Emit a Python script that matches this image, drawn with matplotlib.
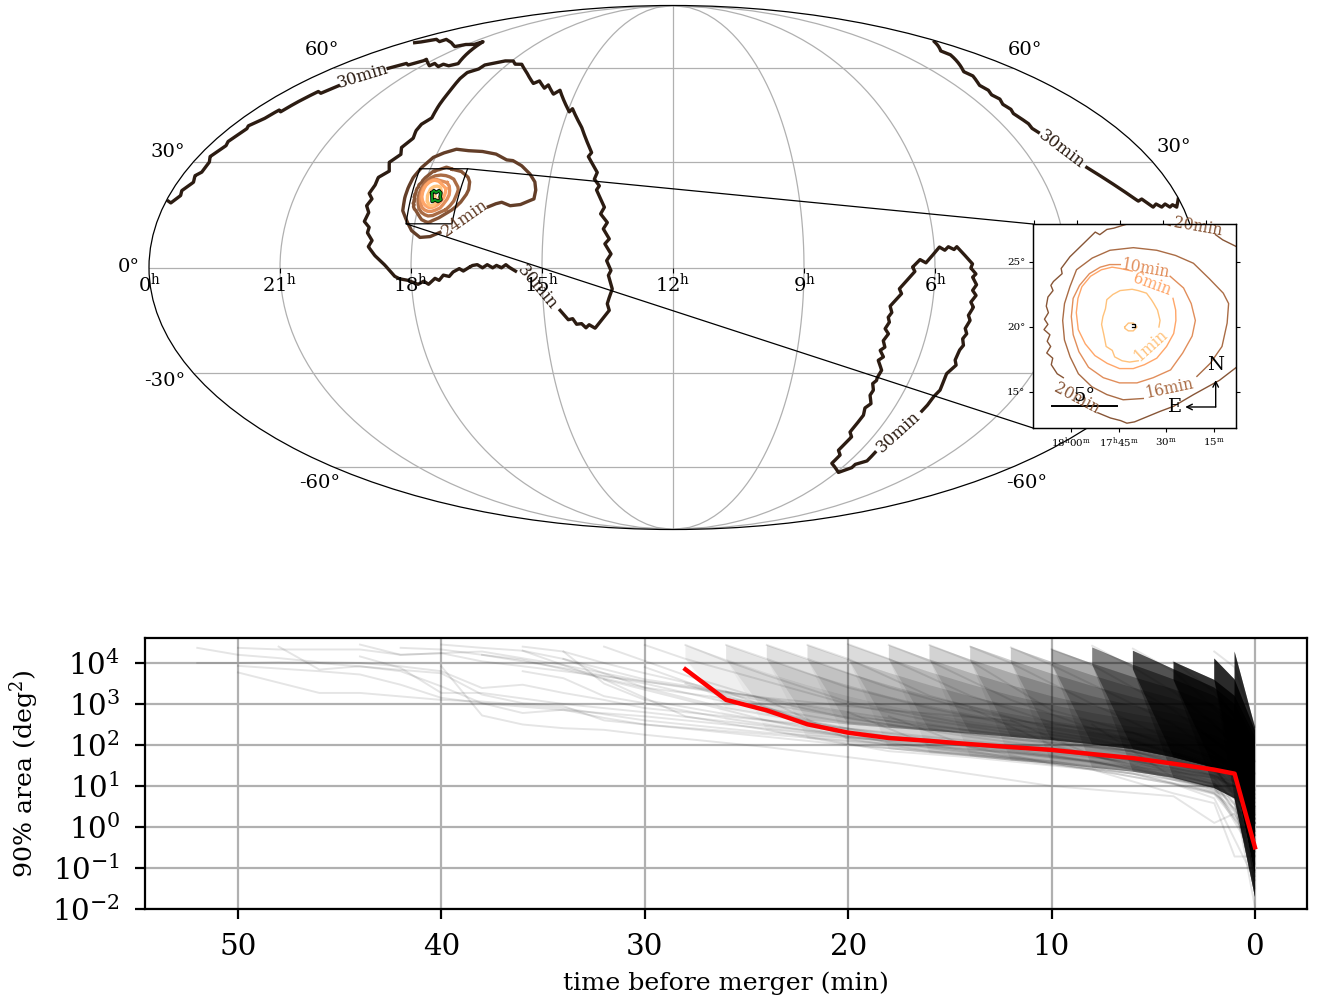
import numpy as np
import matplotlib
matplotlib.use('Agg')
import matplotlib.pyplot as plt
from matplotlib.patches import ConnectionPatch

plt.rcParams['font.family'] = ['DejaVu Serif']
plt.rcParams['mathtext.fontset'] = 'dejavuserif'

# sky contours, right ascension / declination in degrees
ra_30a = [234.1, 236.0, 237.4, 238.9, 240.6, 241.9, 243.8, 245.4, 247.2, 248.8, 250.3, 252.0, 253.4, 255.5, 256.9, 258.9, 260.4, 261.8, 264.1, 265.7, 267.7, 271.0, 273.9, 275.6,
          278.9, 282.5, 285.0, 283.9, 285.9, 285.6, 287.7, 286.9, 288.3, 287.1, 288.8, 287.8, 287.8, 284.8, 286.4, 283.6, 284.9, 282.6, 283.5, 283.2, 280.9, 282.4, 283.7, 285.6, 285.8,
          282.3, 281.9, 277.2, 273.8, 269.2, 266.0, 262.4, 255.2, 247.4, 245.4, 240.6, 239.7, 234.8, 232.7, 224.3, 223.4, 217.1, 211.1, 212.1, 207.9, 208.7, 206.6, 207.5, 204.2, 205.4,
          202.9, 204.2, 202.0, 203.5, 201.3, 202.8, 201.3, 202.2, 200.9, 201.8, 202.8, 202.2, 207.5, 209.5, 210.7, 212.1, 213.9, 215.1, 216.7, 219.3]
dec_30a = [-1.0, -0.1, 0.8, -0.1, 0.6, -0.1, 0.8, -0.1, 0.8, 0.6, -0.1, -1.0, -0.3, -1.2, -2.5, -2.1, -3.6, -3.0, -4.7, -3.8, -4.7, -3.6, -3.2, -2.5, 0.6, 3.3, 5.8, 7.5, 9.7, 11.2, 12.9,
           15.4, 17.3, 19.2, 20.8, 23.0, 25.4, 27.2, 29.8, 32.1, 34.2, 37.0, 39.3, 41.3, 43.2, 47.4, 52.0, 56.2, 58.3, 59.5, 61.0, 61.9, 62.5, 62.5, 61.3, 61.3, 58.3, 54.5, 55.4, 52.9, 54.0,
           50.9, 52.2, 45.2, 46.2, 40.3, 32.7, 31.5, 26.9, 24.9, 23.0, 21.8, 16.9, 15.0, 12.6, 10.8, 8.0, 6.6, 3.8, 1.9, -0.8, -2.2, -5.9, -7.8, -10.1, -12.0, -17.0, -16.0, -16.9, -15.7,
           -15.9, -14.3, -14.6, -12.0]
ra_30b1 = [359.2, 358.0, 355.9, 356.5, 354.2, 355.3, 353.8, 353.9, 355.5, 353.4, 354.3, 352.5, 353.4, 350.7, 349.3, 347.6, 346.4, 344.5, 342.0, 339.5]
dec_30b1 = [18.6, 18.1, 20.2, 21.6, 24.0, 25.9, 26.9, 29.8, 31.5, 34.7, 36.0, 39.8, 40.8, 42.9, 45.8, 45.2, 48.2, 51.8, 51.2, 53.7]
ra_30b2 = [330.6, 326.1, 323.4, 319.5, 319.5, 311.1, 310.6, 305.6, 305.1, 300.8, 297.5, 308.6, 309.9, 315.4, 319.3, 328.2, 338.3, 338.0, 345.3, 349.3, 352.8]
dec_30b2 = [59.8, 61.6, 61.0, 62.5, 63.1, 60.7, 61.6, 60.4, 61.3, 60.7, 61.5, 70.0, 68.9, 68.9, 68.0, 69.6, 71.0, 70.0, 71.0, 70.0, 69.6]
ra_30c1 = [3.0, 16.6, 16.8, 29.7, 29.0, 33.5, 32.9, 34.5, 33.4, 35.2, 34.4, 35.5, 33.9, 34.5, 33.5]
dec_30c1 = [70.0, 66.3, 64.8, 58.6, 57.1, 53.9, 52.2, 50.7, 49.3, 47.6, 46.0, 44.7, 41.5, 40.1, 38.8]
ra_30c2 = [26.2, 14.8, 13.2, 10.5, 9.0, 7.5, 5.8, 4.6, 3.3, 2.2, 0.2]
dec_30c2 = [28.3, 18.6, 19.2, 16.9, 17.8, 16.9, 17.8, 16.9, 17.6, 16.9, 19.2]
ra_30d = [77.8, 77.3, 77.1, 76.2, 76.9, 77.2, 75.2, 76.4, 76.3, 75.5, 76.6, 75.7, 76.8, 75.8, 76.8, 75.6, 76.8, 75.3, 76.7, 75.5, 77.0, 75.9, 77.7, 77.1, 82.2, 83.2, 85.1, 86.4, 88.2,
          93.1, 95.1, 97.7, 96.9, 102.0, 101.1, 104.6, 103.7, 104.7, 104.0, 105.1, 103.5, 104.8, 103.6, 105.0, 103.1, 104.6, 102.1, 102.7, 102.5, 103.5, 102.1, 102.5, 100.4, 101.9,
          100.8, 101.9, 99.6, 100.8, 97.8, 97.9, 88.8, 84.8, 85.2, 81.2, 82.0]
dec_30d = [-41.4, -39.6, -37.0, -35.0, -32.1, -30.1, -27.6, -26.2, -23.3, -21.9, -20.0, -18.6, -17.1, -14.8, -13.4, -11.1, -9.7, -7.8, -6.4, -4.8, -2.7, -1.8, -0.1, 1.0, 5.8, 5.0, 5.8,
           4.8, 5.7, 1.3, 2.2, 0.1, -1.1, -5.9, -7.3, -10.8, -12.6, -13.9, -15.3, -17.1, -18.6, -20.5, -22.4, -23.3, -25.2, -26.2, -29.1, -31.1, -32.1, -33.0, -35.0, -36.5, -39.1, -40.4,
           -42.7, -48.0, -49.6, -54.0, -55.7, -58.6, -61.9, -60.2, -59.0, -57.8, -54.8]
ra_24 = [245.2, 243.0, 240.8, 237.6, 234.1, 231.4, 229.5, 229.3, 230.1, 232.6, 236.4, 240.1, 242.6, 247.2, 252.7, 257.9, 263.3, 267.2, 270.7, 273.4, 275.0, 275.5, 275.6, 275.1, 273.0, 270.7, 267.5, 264.1, 260.8]
dec_24 = [17.0, 17.8, 18.3, 17.3, 17.6, 18.6, 19.2, 21.6, 24.0, 26.4, 28.8, 30.3, 30.5, 32.2, 33.0, 33.2, 33.7, 32.7, 31.3, 28.3, 25.4, 22.5, 19.7, 15.9, 13.1, 10.3, 8.4, 8.6, 9.8]
ra_20a = [261.9, 262.5, 264.2, 265.7, 266.8, 267.4, 268.0, 268.4, 269.4, 270.5, 271.2, 271.1, 271.8, 272.0, 271.8, 272.2, 272.3, 272.1, 272.4, 272.1, 272.4, 271.9, 272.1, 271.8, 272.1, 271.6, 271.7, 271.2, 270.7]
dec_20a = [27.8, 28.0, 28.4, 27.9, 27.6, 27.5, 27.1, 27.3, 26.4, 25.4, 24.5, 24.1, 23.5, 23.2, 22.8, 22.3, 21.6, 21.1, 20.6, 20.2, 19.8, 19.4, 18.9, 18.5, 18.0, 17.6, 17.1, 16.4, 16.1]
ra_20b = [267.9, 266.9, 266.1, 265.6, 265.0, 264.0, 263.0, 261.9, 260.3, 258.2, 256.8, 255.4, 254.0, 253.5, 253.9, 254.9, 256.3, 257.4, 258.0]
dec_20b = [13.4, 13.0, 12.8, 12.6, 12.7, 13.1, 13.5, 13.9, 14.8, 15.9, 16.9, 18.2, 20.3, 21.8, 24.1, 25.4, 26.2, 26.7, 27.1]
ra_16 = [260.0, 258.9, 257.9, 257.4, 257.2, 257.6, 258.7, 260.0, 261.5, 263.1, 265.1, 267.1, 268.6, 269.9, 270.4, 270.8, 270.9, 270.7, 270.2, 269.5, 268.4, 267.2, 265.9, 264.3]
dec_16 = [16.2, 17.2, 18.5, 20.3, 21.8, 22.6, 23.7, 24.9, 25.5, 25.9, 26.1, 25.9, 25.3, 24.4, 23.1, 21.8, 20.5, 19.0, 17.7, 16.4, 15.4, 14.8, 14.4, 14.5]
ra_10 = [262.0, 260.9, 260.3, 260.0, 260.3, 261.1, 262.1, 263.5, 264.8, 266.2, 267.5, 268.7, 269.5, 270.0, 270.2, 270.1, 269.6, 268.8, 267.9, 267.1, 266.2]
dec_10 = [23.9, 23.0, 21.8, 20.5, 19.3, 18.0, 16.7, 16.1, 15.7, 15.7, 16.1, 16.9, 18.1, 19.4, 20.8, 22.2, 23.2, 24.1, 24.6, 24.8, 24.8]
ra_6 = [261.8, 261.6, 261.6, 261.8, 262.4, 263.2, 264.2, 265.1, 266.2, 267.2, 268.2, 269.0, 269.6, 269.8, 269.7, 269.4, 268.7, 267.8, 266.9, 266.2, 265.2]
dec_6 = [22.2, 21.3, 20.5, 19.5, 18.5, 17.6, 17.1, 16.8, 16.8, 17.2, 17.8, 18.7, 19.8, 21.1, 22.2, 23.1, 23.9, 24.4, 24.6, 24.5, 24.3]
ra_1 = [263.0, 262.9, 263.1, 263.4, 263.6, 264.0, 264.7, 265.2, 266.2, 266.8, 267.3, 267.4, 267.6, 267.7, 267.5, 267.3, 266.8, 266.6, 266.0, 265.4, 264.7]
dec_1 = [20.0, 20.5, 21.3, 21.8, 22.1, 22.6, 22.8, 22.9, 22.8, 22.5, 22.1, 21.4, 20.8, 20.2, 19.4, 18.5, 18.2, 17.7, 17.4, 17.3, 17.4]
ra_0 = [265.8, 265.5, 265.1, 264.8, 265.1, 265.5, 265.8, 265.8]
dec_0 = [20.0, 20.3, 20.3, 20.0, 19.7, 19.7, 19.9, 20.0]
ra_dot = [265.2, 265.0, 265.0, 265.2]
dec_dot = [20.2, 20.2, 20.0, 20.0]
ra_final = [266.4, 265.9, 265.0, 264.1, 263.2, 263.1, 262.5, 263.4, 264.6, 265.5, 265.9, 266.4]
dec_final = [21.0, 21.6, 21.0, 21.6, 21.0, 19.9, 19.0, 18.5, 19.0, 18.5, 19.6, 21.0]

labels_main = ['30min', '24min', '30min', '30min', '30min']
labels_main_ra = [226.9, 252.7, 336.2, 30.1, 80.2]
labels_main_dec = [-5.6, 13.7, 57.1, 33.8, -48.1]
labels_main_rot = [-50, 35, 17, -37, 42]
labels_main_t = [30, 24, 30, 30, 30]

labels_inset = ['1min', '6min', '10min', '16min', '20min', '20min']
labels_inset_ra = [263.7, 263.5, 264.1, 262.2, 259.5, 269.6]
labels_inset_dec = [18.6, 23.3, 24.5, 15.3, 27.7, 14.5]
labels_inset_rot = [42, -20, -10, 12, -10, -28]
labels_inset_t = [1, 6, 10, 16, 20, 20]

ra_ticks_deg = [-135, -90, -45, 0, 45, 90, 135]
ra_tick_text = ['21', '18', '15', '12', '9', '6', '3']
inset_ra = [270.0, 266.25, 262.5, 258.75]
inset_ra_text = [r'$\mathrm{18^h00^m}$', r'$\mathrm{17^h45^m}$', r'$\mathrm{30^m}$', r'$\mathrm{15^m}$']
inset_ra_top = [273.75, 270.0, 266.25, 262.5, 258.75]
inset_dec = [15, 20, 25]

# lower panel: time before merger (min), log10 of the 90% area (deg2)
t_red = [28, 26, 24, 22, 20, 18, 16, 14, 12, 10, 8, 6, 4, 2, 1, 0]
area_red = [7000, 1260, 700, 320, 200, 148, 126, 105, 89, 76, 60, 48, 35, 25, 20, 0.32]

track_t = [
    [52, 50, 48, 46, 44, 42, 40, 38, 36, 34, 32, 30, 20, 10, 2, 1, 0],
    [52, 50, 48, 46, 40, 38, 36, 34, 32, 30, 20, 10, 2, 0],
    [50, 48, 44, 42, 40, 38, 34, 30, 24, 18, 12, 6, 2, 1, 0],
    [50, 46, 44, 42, 40, 38, 36, 34, 32, 30, 20, 10, 2, 0],
    [50, 46, 44, 40, 38, 34, 30, 24, 16, 8, 2, 1, 0],
    [48, 46, 44, 42, 40, 38, 34, 30, 22, 14, 6, 1, 0],
    [44, 42, 40, 38, 34, 30, 26, 20, 14, 8, 2, 1, 0],
    [44, 42, 40, 38, 34, 30, 22, 14, 8, 2, 0],
    [42, 40, 38, 36, 34, 30, 26, 20, 12, 6, 1, 0],
    [40, 38, 36, 34, 30, 26, 20, 14, 8, 2, 0],
    [40, 38, 36, 34, 32, 30, 24, 17.5, 10, 4, 2, 1, 0],
    [38, 36, 34, 30, 24, 18, 12, 6, 2, 0],
    [36, 34, 32, 30, 26, 20, 14, 8, 2, 1, 0],
    [34, 32, 30, 26, 20, 12, 6, 2, 0],
    [36, 34, 32, 30, 26, 20, 14, 8, 4, 1, 0],
    [36, 32, 28, 24, 20, 16, 10, 6, 2, 0],
    [34, 30, 26, 20, 16, 10, 4, 1, 0],
    [32, 30, 28, 24, 20, 14, 8, 2, 1, 0],
    [32, 28, 22, 18, 14, 8, 4, 2, 0],
    [30, 28, 24, 20, 16, 12, 6, 2, 0],
    [30, 26, 22, 18, 12, 8, 4, 1, 0],
    [28, 26, 24, 20, 14, 10, 6, 2, 0],
    [28, 24, 20, 14, 10, 6, 2, 1, 0],
    [26, 24, 20, 16, 12, 8, 4, 2, 0],
    [26, 22, 18, 14, 10, 6, 2, 0],
    [24, 22, 18, 14, 10, 6, 2, 1, 0],
    [24, 20, 16, 12, 8, 4, 2, 0],
    [22, 20, 16, 10, 6, 2, 1, 0],
    [20, 18, 14, 10, 6, 2, 0],
    [20, 16, 12, 8, 4, 2, 1, 0],
    [18, 16, 12, 8, 4, 1, 0],
    [18, 14, 10, 6, 2, 0],
    [16, 14, 10, 6, 2, 1, 0],
    [14, 12, 8, 4, 2, 0],
    [14, 10, 6, 2, 1, 0],
    [12, 10, 6, 4, 2, 1, 0],
    [10, 8, 4, 2, 1, 0],
    [8, 6, 4, 2, 1, 0],
    [6, 4, 2, 1, 0],
    [12, 8, 4, 2, 1, 0],
    [8, 4, 2, 1, 0],
    [4, 2, 1, 0],
    [2, 1, 0],
    [2, 1, 0],
]
track_log_area = [
    [4.37, 4.2, 4.12, 4.02, 4.0, 3.92, 3.8, 3.39, 3.47, 3.27, 3.1, 2.9, 2.4, 1.9, 1.2, 1.0, -0.2],
    [4.0, 4.0, 4.02, 4.0, 3.75, 3.23, 3.02, 2.95, 2.6, 2.5, 2.0, 1.6, 1.0, -0.6],
    [4.37, 4.33, 4.33, 4.2, 4.24, 4.04, 3.8, 3.55, 3.15, 2.85, 2.6, 2.3, 1.7, 1.4, 0.3],
    [3.93, 3.8, 3.72, 3.47, 3.15, 3.02, 2.78, 2.86, 2.66, 2.5, 2.1, 1.75, 1.2, -0.1],
    [3.77, 3.27, 3.27, 3.1, 3.06, 2.9, 2.6, 2.3, 2.05, 1.8, 1.25, 1.0, 0.2],
    [4.4, 3.84, 3.92, 3.8, 3.43, 3.02, 2.85, 2.7, 2.3, 2.0, 1.6, 0.9, -0.4],
    [4.45, 4.2, 4.24, 4.28, 3.95, 3.55, 3.25, 2.7, 2.35, 2.0, 1.5, 1.25, 0.2],
    [4.16, 3.88, 3.27, 3.27, 3.0, 2.8, 2.35, 2.05, 1.75, 1.05, -0.2],
    [4.37, 4.33, 4.2, 4.04, 3.88, 3.5, 3.05, 2.55, 2.2, 1.85, 1.1, 0.5],
    [4.45, 4.37, 4.3, 4.1, 3.6, 3.3, 2.8, 2.35, 2.05, 1.4, 0.4],
    [3.92, 2.72, 2.5, 2.41, 2.37, 2.25, 1.95, 1.55, 1.0, 0.75, 0.1, 0.33, -0.5],
    [4.2, 4.08, 3.85, 3.4, 3.0, 2.5, 2.15, 1.85, 1.35, 0.1],
    [4.4, 4.28, 4.0, 3.75, 3.3, 2.75, 2.25, 1.95, 1.4, 1.1, 0.1],
    [4.28, 3.5, 3.1, 2.75, 2.3, 1.95, 1.65, 1.1, -0.3],
    [3.8, 3.63, 3.19, 3.02, 2.65, 2.2, 1.9, 1.6, 1.2, 0.85, -0.2],
    [4.3, 3.6, 3.1, 2.6, 2.2, 1.95, 1.6, 1.35, 0.95, -0.7],
    [4.1, 3.4, 2.9, 2.4, 2.15, 1.75, 1.25, 0.75, -0.9],
    [4.4, 4.05, 3.7, 3.1, 2.65, 2.2, 1.8, 1.25, 0.95, -0.1],
    [3.6, 2.7, 2.2, 1.85, 1.7, 1.4, 1.05, 0.8, -0.4],
    [4.44, 4.1, 3.55, 3.0, 2.6, 2.3, 1.9, 1.4, 0.3],
    [3.9, 3.2, 2.6, 2.2, 1.85, 1.6, 1.2, 0.7, -0.6],
    [4.44, 4.05, 3.7, 3.05, 2.5, 2.25, 1.95, 1.45, 0.5],
    [3.5, 2.8, 2.35, 1.95, 1.7, 1.45, 1.05, 0.7, -1.1],
    [4.44, 4.1, 3.4, 2.9, 2.5, 2.15, 1.75, 1.45, 0.1],
    [3.3, 2.55, 2.05, 1.8, 1.55, 1.3, 0.85, -0.3],
    [4.44, 4.1, 3.4, 2.85, 2.45, 2.1, 1.5, 1.2, 0.35],
    [3.1, 2.15, 1.85, 1.65, 1.4, 1.05, 0.7, -1.3],
    [4.44, 4.1, 3.2, 2.4, 2.05, 1.55, 1.3, 0.2],
    [4.46, 4.1, 3.2, 2.55, 2.1, 1.45, 0.1],
    [2.8, 2.0, 1.7, 1.4, 0.82, 0.58, -0.72, -0.72],
    [4.44, 4.05, 3.1, 2.4, 1.85, 1.25, 0.45],
    [2.7, 1.95, 1.55, 1.3, 0.82, 0.09],
    [4.44, 4.05, 2.85, 2.3, 1.55, 1.25, -0.4],
    [4.4, 4.0, 3.0, 2.1, 1.6, 0.6],
    [2.9, 2.0, 1.5, 0.9, 0.55, -1.2],
    [4.38, 3.95, 3.0, 2.5, 1.8, 1.45, 0.8],
    [4.34, 3.95, 2.85, 2.1, 1.7, 0.7],
    [4.42, 3.9, 3.3, 2.5, 2.0, 0.9],
    [4.35, 3.8, 2.9, 2.3, 1.3],
    [2.6, 1.75, 1.15, 0.82, 0.37, -1.05],
    [2.5, 1.2, 0.95, 0.6, -1.5],
    [4.03, 3.3, 2.7, 1.6],
    [4.28, 3.9, 2.44],
    [1.0, 0.7, -1.95],
]

# dense part of the bundle: one shaded envelope per start time
cohort_grid = [28, 26, 24, 22, 20, 18, 16, 14, 12, 10, 8, 6, 4, 2, 1, 0]
cohort_top = [
    [4.44, 4.10, 3.76, 3.46, 3.19, 2.96, 2.76, 2.59, 2.44, 2.32, 2.19, 2.06, 1.90, 1.70, 1.50, 0.70],
    [4.44, 4.09, 3.76, 3.46, 3.19, 2.96, 2.76, 2.59, 2.44, 2.32, 2.19, 2.06, 1.90, 1.65, 0.80],
    [4.44, 4.09, 3.76, 3.46, 3.19, 2.96, 2.76, 2.59, 2.44, 2.32, 2.19, 2.00, 1.80, 1.00],
    [4.44, 4.09, 3.76, 3.46, 3.19, 2.96, 2.76, 2.59, 2.44, 2.32, 2.12, 1.90, 1.10],
    [4.46, 4.11, 3.78, 3.48, 3.21, 2.98, 2.78, 2.61, 2.46, 2.25, 2.00, 1.20],
    [4.44, 4.09, 3.76, 3.46, 3.19, 2.96, 2.76, 2.59, 2.35, 2.10, 1.30],
    [4.44, 4.09, 3.76, 3.46, 3.19, 2.96, 2.76, 2.48, 2.20, 1.40],
    [4.42, 4.07, 3.74, 3.44, 3.17, 2.94, 2.62, 2.30, 1.50],
    [4.38, 4.03, 3.70, 3.40, 3.13, 2.78, 2.42, 1.60],
    [4.34, 3.99, 3.66, 3.36, 2.98, 2.60, 1.75],
    [4.38, 3.96, 3.60, 3.20, 2.80, 1.90],
    [4.30, 3.85, 3.40, 3.00, 2.05],
    [4.03, 3.59, 3.20, 2.20],
    [4.11, 3.60, 2.35],
    [4.28, 2.44],
]
cohort_alpha = [0.06, 0.09, 0.11, 0.12, 0.13, 0.15, 0.16, 0.18, 0.20, 0.32, 0.50, 0.75, 0.95, 1.0, 1.0]
wide_floor = [3.0, 2.6, 2.35, 2.15, 2.0, 1.9, 1.8, 1.72, 1.62, 1.55, 1.45, 1.35, 1.2, 0.95, 0.7, -1.7]
core_floor = [3.2, 2.9, 2.75, 2.6, 2.5, 2.42, 2.35, 2.28, 2.2, 2.12, 2.02, 1.9, 1.7, 1.45, 1.3, -1.1]

W, H = 1320, 998
RA0, DEC0 = 265.0, 20.0


def geo(ra, dec):
    return np.radians(180 - np.asarray(ra, float)), np.radians(np.asarray(dec, float))


def sky(ra, dec):
    ra, dec = np.asarray(ra, float), np.asarray(dec, float)
    return (RA0 - ra) * np.cos(np.radians(dec)), dec


def col(t):
    return plt.cm.copper(1 - t / 35)


fig = plt.figure(figsize=(W / 200, H / 200), dpi=200)

# all-sky map
ax = fig.add_axes([149 / W, 1 - 530 / H, 1048 / W, 525 / H], projection='mollweide')
ax.set_longitude_grid(45)
ax.set_latitude_grid(30)
ax.set_longitude_grid_ends(90)
ax.grid(True, color='#b0b0b0', lw=0.45)
ax.set_xticklabels([])
ax.set_yticklabels([])
ax.spines['geo'].set_linewidth(0.45)

for r, d in [(ra_30a, dec_30a), (ra_30b1, dec_30b1), (ra_30b2, dec_30b2),
             (ra_30c1, dec_30c1), (ra_30c2, dec_30c2), (ra_30d, dec_30d)]:
    ax.plot(*geo(r, d), color=col(30), lw=1.2)
ax.plot(*geo(ra_24, dec_24), color=col(24), lw=1.2)
ax.plot(*geo(ra_20a + ra_20b + ra_20a[:1], dec_20a + dec_20b + dec_20a[:1]), color=col(20), lw=1.2)
for t, r, d in [(16, ra_16, dec_16), (10, ra_10, dec_10), (6, ra_6, dec_6), (1, ra_1, dec_1), (0, ra_0, dec_0)]:
    ax.plot(*geo(r + r[:1], d + d[:1]), color=col(t), lw=1.2)
ax.plot(*geo(ra_final, dec_final), color='k', lw=1.3)
ax.plot(*geo(ra_final, dec_final), color='#0a9a1e', lw=0.7)

for txt, r, d, rot, t in zip(labels_main, labels_main_ra, labels_main_dec, labels_main_rot, labels_main_t):
    x, y = geo(r, d)
    ax.text(x, y, txt, color=col(t), fontsize=6, rotation=rot, ha='center', va='center', rotation_mode='anchor')

# RA ticks and labels under the equator
for lon, s in zip(ra_ticks_deg, ra_tick_text):
    ax.plot(np.radians(lon), 0, marker=3, ms=1.8, mew=0.4, color='k', clip_on=False)
    ax.annotate(rf'$\mathrm{{{s}^h}}$', (np.radians(lon), 0), xytext=(0, -2.0), textcoords='offset points',
                ha='center', va='top', fontsize=7)
ax.annotate(r'$\mathrm{0^h}$', (-np.pi, 0), xytext=(0, -2.0), textcoords='offset points',
            ha='center', va='top', fontsize=7, annotation_clip=False)

# declination labels at the rim
for lat, lon, dx, dy, s in [(0, -180, -7.2, 0, '0°'), (30, -180, -9.4, 3.6, '30°'), (60, -180, -4.3, 6.5, '60°'),
                            (-30, -180, -10.4, -2.9, '-30°'), (-60, -180, -5, -5.8, '-60°'),
                            (30, 180, 7.9, 5.4, '30°'), (60, 180, 4.7, 6.5, '60°'), (-60, 180, 5.4, -5.8, '-60°')]:
    ax.annotate(s, (np.radians(lon), np.radians(lat)), xytext=(dx, dy), textcoords='offset points',
                ha='center', va='center', fontsize=7, annotation_clip=False)

# inset
inset = fig.add_axes([1033 / W, 1 - 428 / H, 203 / W, 204 / H], zorder=3)
inset.set_xlim(-7.81, 7.81)
inset.set_ylim(12.23, 27.92)
for sp in inset.spines.values():
    sp.set_linewidth(0.45)

for t, r, d in [(20, ra_20a, dec_20a), (20, ra_20b, dec_20b), (16, ra_16, dec_16), (10, ra_10, dec_10),
                (6, ra_6, dec_6), (1, ra_1, dec_1), (1, ra_0, dec_0)]:
    inset.plot(*sky(r, d), color=col(t), lw=0.5)
inset.plot(*sky(ra_dot, dec_dot), color='k', lw=0.45)

for txt, r, d, rot, t in zip(labels_inset, labels_inset_ra, labels_inset_dec, labels_inset_rot, labels_inset_t):
    x, y = sky(r, d)
    inset.text(x, y, txt, color=col(t), fontsize=5.6, rotation=rot, ha='center', va='center', rotation_mode='anchor')

dec_bottom, dec_top = inset.get_ylim()
inset.set_xticks(sky(inset_ra, dec_bottom)[0])
inset.set_xticklabels(inset_ra_text)
inset.set_yticks(inset_dec)
inset.set_yticklabels([f'{d}°' for d in inset_dec])
inset.tick_params(labelsize=3.7, length=1.5, width=0.4, pad=1.2, right=True)
top = inset.twiny()
top.set_xlim(inset.get_xlim())
top.set_xticks(sky(inset_ra_top, dec_top)[0])
top.set_xticklabels([])
top.tick_params(length=1.5, width=0.4)
for sp in top.spines.values():
    sp.set_linewidth(0.45)

inset.plot([-6.32, -1.32], [13.9, 13.9], color='k', lw=0.7)
inset.text(-3.82, 14.7, '5°', fontsize=7, ha='center', va='center')
inset.annotate('', xy=(0.75, 0.103), xytext=(0.90, 0.103), xycoords='axes fraction',
               arrowprops=dict(arrowstyle='->', lw=0.5, shrinkA=0, shrinkB=0, mutation_scale=5))
inset.annotate('', xy=(0.90, 0.235), xytext=(0.90, 0.103), xycoords='axes fraction',
               arrowprops=dict(arrowstyle='->', lw=0.5, shrinkA=0, shrinkB=0, mutation_scale=5))
inset.text(0.70, 0.103, 'E', fontsize=7, ha='center', va='center', transform=inset.transAxes)
inset.text(0.897, 0.31, 'N', fontsize=7, ha='center', va='center', transform=inset.transAxes)

# zoom box and connectors
xl, xr = inset.get_xlim()
box_ra = [RA0 - xl / np.cos(np.radians(dec_top)), RA0 - xr / np.cos(np.radians(dec_top)),
          RA0 - xr / np.cos(np.radians(dec_bottom)), RA0 - xl / np.cos(np.radians(dec_bottom))]
box_dec = [dec_top, dec_top, dec_bottom, dec_bottom]
ax.plot(*geo(box_ra + box_ra[:1], box_dec + box_dec[:1]), color='k', lw=0.45)
for i, yb in [(1, 1), (3, 0)]:
    con = ConnectionPatch(xyA=geo(box_ra[i], box_dec[i]), coordsA=ax.transData,
                          xyB=(0, yb), coordsB=inset.transAxes, lw=0.45, color='k', shrinkA=0, shrinkB=0)
    fig.add_artist(con)

# lower panel
ax2 = fig.add_axes([145 / W, 1 - 909 / H, 1162 / W, 271 / H])
ax2.set_yscale('log')
ax2.set_axisbelow(True)
ax2.grid(True)
for i, (top_row, a) in enumerate(zip(cohort_top, cohort_alpha)):
    tt = cohort_grid[-len(top_row):]
    start = cohort_grid.index(tt[0])
    for floor, share in [(wide_floor, 0.35), (core_floor, 0.75)]:
        low = floor[start:]
        # a new start time only opens a tooth at the top of the bundle
        low[0] = max(low[0], top_row[1])
        ax2.fill(tt + tt[::-1], 10.0 ** np.array(top_row + low[::-1]), color='k', alpha=a * share, lw=0)
for tt, v in zip(track_t, track_log_area):
    ax2.plot(tt, 10.0 ** np.array(v), color='k', alpha=0.1, lw=0.7)
ax2.plot(t_red, area_red, color='r', lw=1.6)
ax2.set_xlim(54.57, -2.56)
ax2.set_ylim(1e-2, 10 ** 4.61)
ax2.set_xticks([50, 40, 30, 20, 10, 0])
ax2.set_yticks([1e-2, 1e-1, 1, 1e1, 1e2, 1e3, 1e4])
ax2.minorticks_off()
ax2.tick_params(axis='y', labelsize=10.6, pad=5.5)
ax2.tick_params(axis='x', labelsize=10.6, pad=5)
ax2.set_xlabel('time before merger (min)', fontsize=9.1, labelpad=4)
ax2.set_ylabel('90% area (deg$^2$)', fontsize=9.1)

fig.savefig('out.png', dpi=200)
